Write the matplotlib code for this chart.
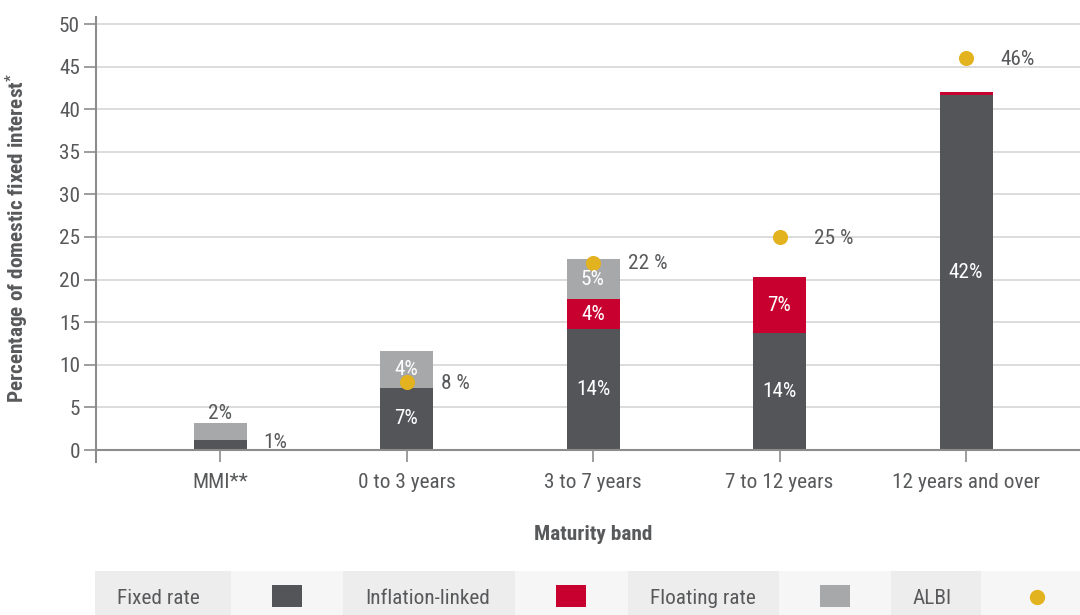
import matplotlib
matplotlib.use("Agg")
import matplotlib.pyplot as plt
from matplotlib import font_manager
from matplotlib.patches import Rectangle
from matplotlib.lines import Line2D

# Pick a condensed face when one is installed
names = {f.name for f in font_manager.fontManager.ttflist}
family = "Roboto"
for cand in ["Roboto Condensed", "Liberation Sans Narrow", "Roboto"]:
    if cand in names:
        family = cand
        break
plt.rcParams["font.family"] = [family, "DejaVu Sans"]
plt.rcParams["mathtext.default"] = "regular"

# Data (percentage of domestic fixed interest)
bands = ["MMI**", "0 to 3 years", "3 to 7 years", "7 to 12 years", "12 years and over"]
fixed_rate = [1.2, 7.3, 14.2, 13.7, 41.7]
inflation_linked = [0.0, 0.0, 3.5, 6.6, 0.35]
floating_rate = [2.0, 4.3, 4.7, 0.0, 0.0]
albi = [None, 8, 22, 25, 46]
albi_labels = ["", "8 %", "22 %", "25 %", "46%"]

c_fixed = "#545559"
c_infl = "#c8002f"
c_float = "#a7a8aa"
c_albi = "#e3b21f"
c_text = "#58595b"
fs = 15.3

W, H = 1080, 615
fig = plt.figure(figsize=(W / 100, H / 100), dpi=100)

# axes: y=0 at 450px, y=50 at 24px, x axis from 96px to right edge
ppu = (450 - 24) / 50
ax_bottom, ax_top = 462, 17
ax = fig.add_axes([96 / W, 1 - ax_bottom / H, 1 - 96 / W, (ax_bottom - ax_top) / H])
ax.set_ylim(-(ax_bottom - 450) / ppu, 50 + (24 - ax_top) / ppu)
step = 186.5
ax.set_xlim(-(220 - 96) / step, (1080 - 220) / step)

x = list(range(len(bands)))
width = 53 / step
bottom2 = [a + b for a, b in zip(fixed_rate, inflation_linked)]
ax.bar(x, fixed_rate, width, color=c_fixed, zorder=3)
ax.bar(x, inflation_linked, width, bottom=fixed_rate, color=c_infl, zorder=3)
ax.bar(x, floating_rate, width, bottom=bottom2, color=c_float, zorder=3)

xs = [i for i, v in enumerate(albi) if v is not None]
ax.scatter(xs, [albi[i] for i in xs], s=118, color=c_albi, zorder=5, linewidths=0)
for i in xs:
    ax.annotate(albi_labels[i], (i, albi[i]), xytext=(25, -1), textcoords="offset points",
                ha="left", va="center", fontsize=fs, color=c_text)

# segment labels
for i in x[1:]:
    segs = [(fixed_rate[i], 0), (inflation_linked[i], fixed_rate[i]), (floating_rate[i], bottom2[i])]
    for val, base in segs:
        if val < 1:
            continue
        ax.text(i, base + val / 2, f"{round(val)}%", ha="center", va="center",
                color="white", fontsize=fs, zorder=6)

# MMI labels sit outside the small bar
ax.annotate(f"{round(floating_rate[0])}%", (0, bottom2[0] + floating_rate[0]), xytext=(0, 0),
            textcoords="offset points", ha="center", va="bottom", color=c_text, fontsize=fs)
ax.annotate(f"{round(fixed_rate[0])}%", (0, fixed_rate[0] / 2), xytext=(40, 2),
            textcoords="offset points", ha="center", va="center", color=c_text, fontsize=fs)

ax.axhline(0, color="#8c8c8c", lw=1.5, zorder=4)
ax.set_yticks(range(0, 51, 5))
ax.grid(axis="y", color="#d9d9d9", lw=1.3, zorder=0)
ax.set_xticks(x)
ax.set_xticklabels(bands)
ax.tick_params(axis="x", direction="in", length=8.6, width=1.2, color="#8c8c8c",
               labelsize=fs, labelcolor=c_text, pad=8)
ax.tick_params(axis="y", direction="out", length=8.6, width=1.2, color="#8c8c8c",
               labelsize=fs, labelcolor=c_text, pad=3)
for s in ["top", "right", "bottom"]:
    ax.spines[s].set_visible(False)
ax.spines["left"].set_color("#8c8c8c")
ax.spines["left"].set_linewidth(1.5)

fig.text(17 / W, 1 - 238 / H, "Percentage of domestic fixed interest$^{*}$", rotation=90,
         ha="center", va="center", fontsize=fs, fontweight="bold", color=c_text)
fig.text(593 / W, 1 - 535 / H, "Maturity band", ha="center", va="center",
         fontsize=fs, fontweight="bold", color=c_text)

# legend strip along the bottom
def fx(px):
    return px / W

def fy(py):
    return 1 - py / H

edges = [95, 231, 343, 515, 628, 779, 891, 981, 1080]
top, bot = 571, 615
labels = ["Fixed rate", "Inflation-linked", "Floating rate", "ALBI"]
swatches = [c_fixed, c_infl, c_float, c_albi]
for k in range(8):
    shade = "#ededed" if k % 2 == 0 else "#f6f6f6"
    fig.add_artist(Rectangle((fx(edges[k]), fy(bot)), fx(edges[k + 1] - edges[k]), (bot - top) / H,
                             transform=fig.transFigure, color=shade, lw=0, zorder=0))
for j, lab in enumerate(labels):
    fig.text(fx(edges[2 * j] + 22), fy(598), lab, ha="left", va="center", fontsize=fs, color=c_text)
    cx = (edges[2 * j + 1] + edges[2 * j + 2]) / 2
    if j < 3:
        fig.add_artist(Rectangle((fx(cx - 15), fy(607)), fx(30), 22 / H, transform=fig.transFigure,
                                 color=swatches[j], lw=0))
    else:
        fig.add_artist(Line2D([fx(1037)], [fy(597)], marker="o", markersize=11, color=c_albi,
                              markeredgewidth=0, transform=fig.transFigure))

fig.savefig("out.png", dpi=100)
